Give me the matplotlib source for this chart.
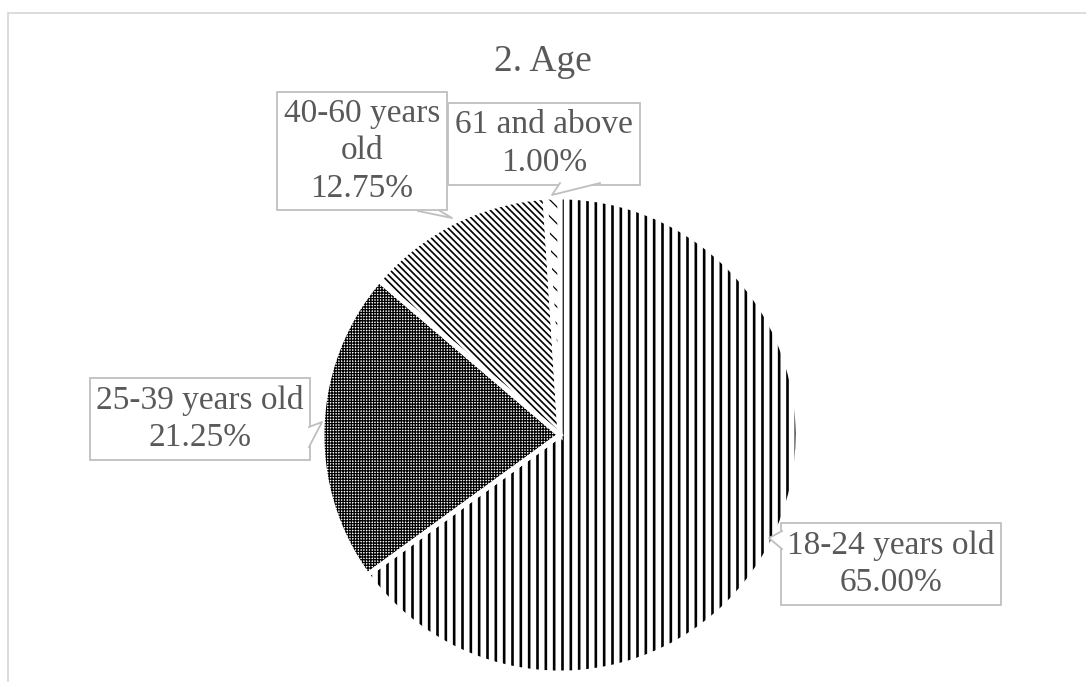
import matplotlib.pyplot as plt
from matplotlib.patches import Rectangle, Polygon
from matplotlib.lines import Line2D

labels = ["18-24 years old", "25-39 years old", "40-60 years\nold", "61 and above"]
shares = [65.00, 21.25, 12.75, 1.00]
hatches = ["||", "++++++", "\\\\\\\\\\", "\\\\"]
hatch_widths = [1.9, 0.9, 1.2, 0.9]

W, H = 1086, 682
plt.rcParams["font.family"] = ["Liberation Serif", "DejaVu Serif"]
fig = plt.figure(figsize=(W / 100, H / 100), dpi=100)
GRAY = "#bfbfbf"
TXT = "#595959"

# chart border (cropped on the right and bottom)
fig.add_artist(Rectangle((8 / W, -0.1), 1.2, 1.1 - 13 / H, transform=fig.transFigure,
                         fill=False, ec="#d9d9d9", lw=1.3, clip_on=False))

cx, cy, r = 560, 435, 238
ax = fig.add_axes([(cx - r) / W, (H - cy - r) / H, 2 * r / W, 2 * r / H])

wedges, _ = ax.pie(shares, startangle=90, counterclock=False, radius=1,
                   colors=["white"] * 4, wedgeprops=dict(edgecolor="black", linewidth=0))
for w, h, lw in zip(wedges, hatches, hatch_widths):
    w.set_hatch(h)
    if hasattr(w, "set_hatch_linewidth"):
        w.set_hatch_linewidth(lw)
# white separators
ax.pie(shares, startangle=90, counterclock=False, radius=1,
       wedgeprops=dict(facecolor="none", edgecolor="white", linewidth=3.5))
ax.set_xlim(-1, 1)
ax.set_ylim(-1, 1)
ax.axis("off")

fig.text(543 / W, 1 - 62 / H, "2. Age", ha="center", va="center",
         fontsize=27, color=TXT)

# callout boxes: text centre (px from top-left) and pointer (base1, tip, base2)
centres = [(891, 564), (200, 419), (362, 151), (544, 144)]
pointers = [
    [(782, 531), (769, 538), (782, 549)],
    [(309, 427), (322, 422), (309, 447)],
    [(418, 211), (452, 218), (440, 211)],
    [(560, 183), (552, 195), (600, 183)],
]


def px(p):
    return (p[0] / W, 1 - p[1] / H)


for lab, val, (tx, ty), pts in zip(labels, shares, centres, pointers):
    fig.text(tx / W, 1 - ty / H, f"{lab}\n{val:.2f}%", ha="center", va="center",
             multialignment="center", fontsize=24, color=TXT, linespacing=1.3,
             bbox=dict(boxstyle="square,pad=0.2", fc="white", ec=GRAY, lw=1.3),
             zorder=3)
    fpts = [px(p) for p in pts]
    fig.add_artist(Polygon(fpts, closed=True, transform=fig.transFigure,
                           fc="white", ec="none", zorder=4))
    fig.add_artist(Line2D([q[0] for q in fpts], [q[1] for q in fpts],
                          transform=fig.transFigure, color=GRAY, lw=1.3, zorder=5))

fig.savefig("out.png", dpi=100)
